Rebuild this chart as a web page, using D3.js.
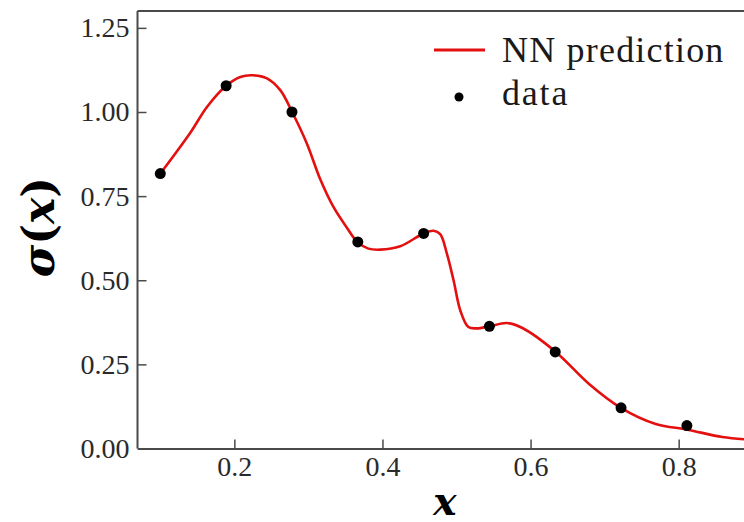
<!DOCTYPE html>
<html>
<head>
<meta charset="utf-8">
<script src="https://cdn.jsdelivr.net/npm/d3@7"></script>
</head>
<body style="margin:0">
<svg id="chart" width="744" height="522"></svg>
<script>
// Observed samples of sigma(x)
const dataX = [0.1, 0.1889, 0.2778, 0.3667, 0.4556, 0.5444, 0.6333, 0.7222, 0.8111];
const dataY = [0.817, 1.078, 1.000, 0.614, 0.639, 0.363, 0.287, 0.121, 0.068];

// Network prediction evaluated along x
const predX = [0.100, 0.141, 0.163, 0.189, 0.208, 0.224, 0.244, 0.262, 0.278, 0.298,
               0.316, 0.334, 0.352, 0.366, 0.381, 0.397, 0.424, 0.4555, 0.469, 0.478,
               0.487, 0.496, 0.505, 0.516, 0.5275, 0.5445, 0.568, 0.589, 0.634, 0.679,
               0.722, 0.769, 0.812, 0.859, 0.890];
const predY = [0.817, 0.940, 1.015, 1.078, 1.104, 1.109, 1.100, 1.065, 1.000, 0.906,
               0.800, 0.717, 0.656, 0.614, 0.594, 0.591, 0.601, 0.639, 0.647, 0.637,
               0.579, 0.500, 0.411, 0.361, 0.357, 0.363, 0.373, 0.358, 0.287, 0.192,
               0.121, 0.073, 0.056, 0.034, 0.027];

const xTicks = [0.2, 0.4, 0.6, 0.8];
const yTicks = [0.00, 0.25, 0.50, 0.75, 1.00, 1.25];

const legendItems = ["NN prediction", "data"];

const textFont = "'Liberation Serif'";
const mathFont = "'DejaVu Serif'";
const lineRed = "#e41010";
const spineColor = "#4a4a4a";
const tickTextColor = "#2a2a2a";

const svg = d3.select("#chart");

const plotLeft = 137.5, plotTop = 11, plotBottom = 448.5;
const x = d3.scaleLinear().domain([0.0692, 0.9308]).range([plotLeft, 85.8 + 0.9308 * 741]);
const y = d3.scaleLinear().domain([0, 1.3]).range([plotBottom, plotBottom - 1.3 * 336.5]);

// Top spine (the frame runs past the right edge of the canvas)
svg.append("line")
  .attr("x1", plotLeft).attr("x2", 800)
  .attr("y1", plotTop).attr("y2", plotTop)
  .attr("stroke", spineColor).attr("stroke-width", 2);

function styleAxis(g) {
  g.attr("font-family", null).attr("font-size", null);
  g.select(".domain").attr("stroke", spineColor).attr("stroke-width", 2);
  g.selectAll(".tick line").attr("stroke", spineColor).attr("stroke-width", 1.5);
  g.selectAll(".tick text")
    .style("font-family", textFont)
    .style("font-size", "28px")
    .style("fill", tickTextColor);
}

const yAxis = svg.append("g")
  .attr("transform", `translate(${plotLeft},0)`)
  .call(d3.axisLeft(y).tickValues(yTicks).tickFormat(d3.format(".2f"))
    .tickSizeInner(-9).tickSizeOuter(0).tickPadding(8));
styleAxis(yAxis);
yAxis.select(".domain").attr("d", `M0,${plotBottom}V${plotTop}`);

const xAxis = svg.append("g")
  .attr("transform", `translate(0,${plotBottom})`)
  .call(d3.axisBottom(x).tickValues(xTicks).tickFormat(d3.format(".1f"))
    .tickSizeInner(-9).tickSizeOuter(0).tickPadding(8));
styleAxis(xAxis);

// Prediction curve
const predPts = predX.map((v, i) => [v, predY[i]]);
svg.append("path")
  .datum(predPts)
  .attr("fill", "none")
  .attr("stroke", lineRed)
  .attr("stroke-width", 2.6)
  .attr("stroke-linejoin", "round")
  .attr("d", d3.line().x(d => x(d[0])).y(d => y(d[1])).curve(d3.curveCatmullRom.alpha(0.5)));

// Data points
const dataPts = dataX.map((v, i) => [v, dataY[i]]);
svg.append("g").selectAll("circle")
  .data(dataPts)
  .join("circle")
  .attr("cx", d => x(d[0]))
  .attr("cy", d => y(d[1]))
  .attr("r", 5.5)
  .attr("fill", "#000");

// Legend
const lg = svg.append("g");
lg.append("line").attr("x1", 434).attr("x2", 485).attr("y1", 50).attr("y2", 50)
  .attr("stroke", lineRed).attr("stroke-width", 3);
lg.append("circle").attr("cx", 459).attr("cy", 97).attr("r", 4.5).attr("fill", "#000");
lg.selectAll("text")
  .data(legendItems)
  .join("text")
  .attr("x", 502)
  .attr("y", (d, i) => 62 + i * 43)
  .style("font-family", textFont)
  .style("font-size", "36px")
  .style("letter-spacing", (d, i) => i === 0 ? "1.2px" : "1.8px")
  .style("fill", "#1a1a1a")
  .text(d => d);

// Axis titles
svg.append("text")
  .attr("x", 445).attr("y", 515)
  .attr("text-anchor", "middle")
  .style("font-family", mathFont)
  .style("font-size", "39px")
  .style("font-weight", "bold")
  .style("font-style", "italic")
  .style("fill", "#000")
  .text("x");

const yl = svg.append("text")
  .attr("transform", "translate(54,227) rotate(-90)")
  .attr("text-anchor", "middle")
  .style("font-family", mathFont)
  .style("font-size", "44px")
  .style("font-weight", "bold")
  .style("fill", "#000");
yl.append("tspan").style("font-style", "italic").text("σ");
yl.append("tspan").text("(");
yl.append("tspan").style("font-style", "italic").text("x");
yl.append("tspan").text(")");
</script>
</body>
</html>
